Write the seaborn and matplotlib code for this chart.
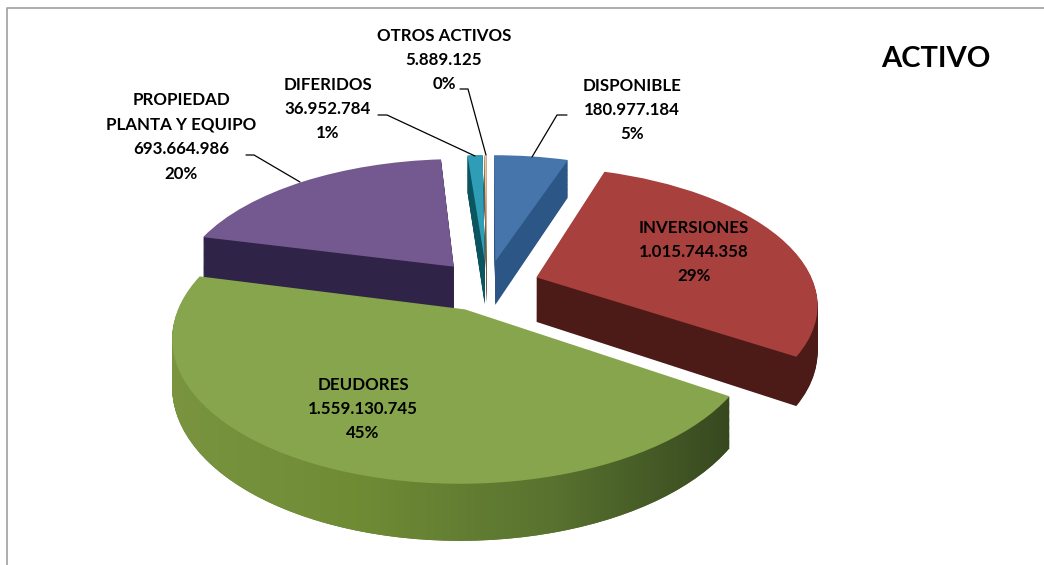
import numpy as np
import seaborn as sns
import matplotlib
matplotlib.use('Agg')
import matplotlib.pyplot as plt
from matplotlib.colors import LinearSegmentedColormap
from matplotlib.path import Path
from matplotlib.transforms import Transform

names = ['DISPONIBLE', 'INVERSIONES', 'DEUDORES', 'PROPIEDAD\nPLANTA Y EQUIPO', 'DIFERIDOS', 'OTROS ACTIVOS']
amounts = [180977184, 1015744358, 1559130745, 693664986, 36952784, 5889125]
amount_labels = ['180.977.184', '1.015.744.358', '1.559.130.745', '693.664.986', '36.952.784', '5.889.125']
percent_labels = ['5%', '29%', '45%', '20%', '1%', '0%']

top_colors = ['#4675ab', '#a8403d', '#87a54c', '#73598f', '#2f9db6', '#e8c8a8']
side_colors = ['#2c5686', '#4c1a17', '#5c7532', '#2f2347', '#0b5560', '#7a5a40']
explode = [0.19] * 6

# screen geometry of the tilted disc, in pixels
CX, CY, R, K, P = 487, 285.5, 278, 0.479, 0.18
DEPTH = 45


class Tilt(Transform):
    input_dims = 2
    output_dims = 2
    is_affine = False
    has_inverse = False

    def __init__(self, drop=0.0):
        super().__init__()
        self.drop = drop

    def transform_non_affine(self, values):
        x, y = np.asarray(values).T
        w = 1 + P * y
        return np.column_stack([CX + R * x / w, CY - R * K * y / w + self.drop / w])


sns.set_theme(style='white')
plt.rcParams['font.family'] = ['Lato', 'DejaVu Sans']

fig, ax = plt.subplots(figsize=(10.44, 5.65), dpi=100)
ax.set_position([0, 0, 1, 1])

# sides: the same pie stacked from the bottom up
green_paths = []
for drop in np.arange(DEPTH, 0, -1.0):
    tilt = Tilt(drop)
    wedges, _ = ax.pie(amounts, colors=side_colors, explode=explode, startangle=90,
                       counterclock=False, radius=1, wedgeprops=dict(linewidth=0))
    for w in wedges:
        w.set_transform(tilt + ax.transData)
    green_paths.append(tilt.transform_path(wedges[2].get_path()))

# top faces
wedges, _ = ax.pie(amounts, colors=top_colors, explode=explode, startangle=90,
                   counterclock=False, radius=1, wedgeprops=dict(linewidth=0, zorder=2))
for w in wedges:
    w.set_transform(Tilt(0) + ax.transData)

# light falling on the green side
side_cmap = LinearSegmentedColormap.from_list('side', ['#7a9440', '#6f8c35', '#5a7430', '#36471f'])
img = ax.imshow(np.linspace(0, 1, 256)[None, :], cmap=side_cmap, aspect='auto',
                extent=(165, 735, 560, 270), zorder=1.5)
img.set_clip_path(Path.make_compound_path(*green_paths), ax.transData)

ax.set_xlim(0, 1044)
ax.set_ylim(565, 0)
ax.set_aspect('auto')
ax.axis('off')

# labels
label_pos = [(632, 110), (694, 252), (363, 409), (181, 137), (328, 109), (444, 60)]
for name, amount, pct, (x, y) in zip(names, amount_labels, percent_labels, label_pos):
    ax.text(x, y, f'{name}\n{amount}\n{pct}', ha='center', va='center', fontsize=12.2,
            fontweight='bold', color='black', linespacing=1.65, zorder=3)

ax.text(936, 59, 'ACTIVO', ha='center', va='center', fontsize=21, fontweight='bold',
        color='black', zorder=3)

# leader lines
leaders = [([567, 557, 532], [115, 115, 157]),
           ([246, 254, 300], [155, 155, 182]),
           ([378, 387, 475], [115, 115, 156]),
           ([460, 468, 486], [89, 89, 155])]
for xs, ys in leaders:
    ax.plot(xs, ys, color='black', lw=0.9, zorder=3)

# chart frame, cut off by the screenshot on the right and bottom
ax.plot([6.5, 6.5, 1044], [565, 7.5, 7.5], color='#a0a0a0', lw=1.2, zorder=3)

fig.savefig('out.png', dpi=100)
